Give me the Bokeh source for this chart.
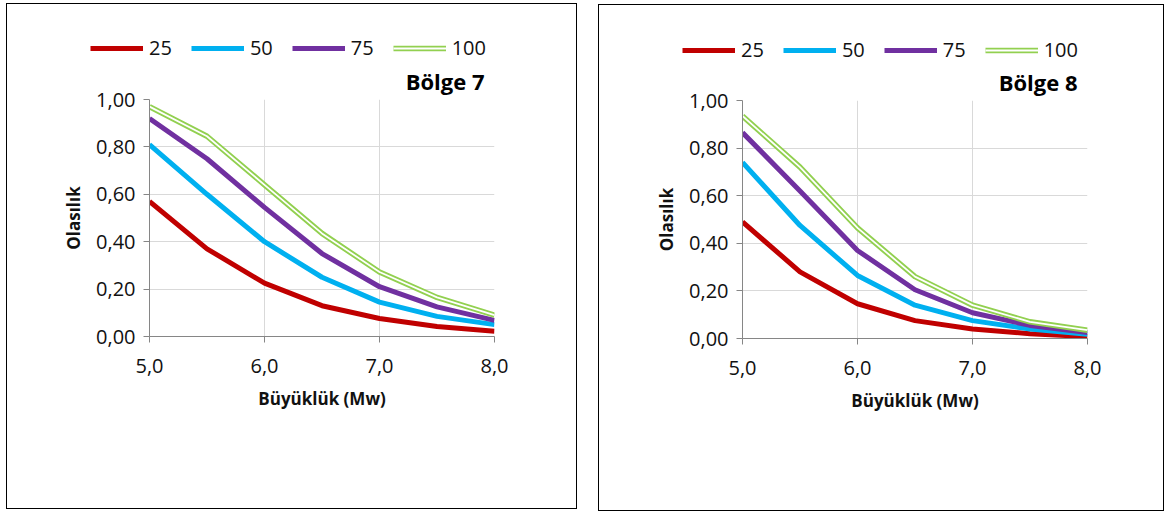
from bokeh.plotting import figure
from bokeh.models import Legend, LegendItem, Title, Range1d, FixedTicker, Spacer
from bokeh.layouts import row, column
from bokeh.embed import file_html
from bokeh.resources import INLINE

# ---------------- data ----------------
magnitudes = [5.0, 5.5, 6.0, 6.5, 7.0, 7.5, 8.0]
series_names = ["25", "50", "75", "100"]

bolge7_25 = [0.57, 0.37, 0.225, 0.13, 0.076, 0.042, 0.022]
bolge7_50 = [0.81, 0.60, 0.40, 0.25, 0.145, 0.085, 0.05]
bolge7_75 = [0.92, 0.75, 0.545, 0.35, 0.21, 0.125, 0.068]
bolge7_100 = [0.97, 0.845, 0.64, 0.435, 0.272, 0.165, 0.09]

bolge8_25 = [0.49, 0.28, 0.146, 0.075, 0.04, 0.02, 0.008]
bolge8_50 = [0.74, 0.475, 0.265, 0.14, 0.075, 0.04, 0.018]
bolge8_75 = [0.865, 0.62, 0.37, 0.205, 0.108, 0.055, 0.025]
bolge8_100 = [0.935, 0.72, 0.465, 0.26, 0.14, 0.07, 0.035]

x_ticks = [5.0, 6.0, 7.0, 8.0]
x_tick_labels = ["5,0", "6,0", "7,0", "8,0"]
y_ticks = [0.0, 0.2, 0.4, 0.6, 0.8, 1.0]
y_tick_labels = ["0,00", "0,20", "0,40", "0,60", "0,80", "1,00"]

titles = ["Bölge 7", "Bölge 8"]
x_title = "Büyüklük (Mw)"
y_title = "Olasılık"

colors = ["#C00000", "#00B0F0", "#7030A0", "#92D050"]
FONT = "Open Sans"
TEXT = "#111111"
AXIS = "#868686"
HEADER_H = 57


def series_styles(name, c):
    if name == "100":
        return [dict(line_color=c, line_width=5.5), dict(line_color="white", line_width=1.8)]
    return [dict(line_color=c, line_width=5)]


def make_panel(title, series, width, height, bl, br, bb, leg_x, leg_y):
    # header: legend keys (its own frame covers the whole header)
    h = figure(width=width, height=HEADER_H, output_backend="svg", toolbar_location=None,
               x_axis_location=None, y_axis_location=None, frame_align=False,
               min_border=0, x_range=Range1d(5.0, 8.0), y_range=Range1d(-2.0, -1.0))
    h.grid.visible = False
    h.outline_line_color = None
    h.border_fill_color = "white"
    h.background_fill_color = "white"
    items = []
    for name, ys, c in zip(series_names, series, colors):
        # same series, drawn outside the header's visible range: only the legend keys show
        rs = [h.line(magnitudes, ys, line_join="round", **st) for st in series_styles(name, c)]
        items.append(LegendItem(label=name, renderers=rs))
    legend = Legend(items=items, orientation="horizontal", location=(leg_x, leg_y),
                    glyph_width=53, glyph_height=20, label_height=20, label_standoff=6,
                    spacing=19, padding=0, margin=0, border_line_color=None,
                    background_fill_alpha=0, label_text_font=FONT, label_text_font_size="20px",
                    label_text_line_height=1.0, label_text_color=TEXT)
    h.add_layout(legend, "center")

    # main chart
    p = figure(width=width, height=height - HEADER_H, output_backend="svg", toolbar_location=None,
               x_range=Range1d(5.0, 8.0), y_range=Range1d(0.0, 1.0), frame_align=False,
               min_border_left=bl, min_border_right=br, min_border_top=99 - 4 - HEADER_H,
               min_border_bottom=bb)
    p.outline_line_color = None
    p.background_fill_color = "white"
    p.border_fill_color = "white"

    p.add_layout(Title(text=title, align="right", offset=10, standoff=6, vertical_align="middle",
                       text_font=FONT, text_font_style="bold", text_font_size="22px",
                       text_color="#000000"), "above")

    for ax, ticks, labels in ((p.xaxis[0], x_ticks, x_tick_labels), (p.yaxis[0], y_ticks, y_tick_labels)):
        ax.ticker = FixedTicker(ticks=ticks)
        ax.major_label_overrides = {t: l for t, l in zip(ticks, labels)}
        ax.axis_line_color = AXIS
        ax.major_tick_line_color = AXIS
        ax.major_tick_out = 6
        ax.major_tick_in = 0
        ax.minor_tick_line_color = None
        ax.major_label_text_font = FONT
        ax.major_label_text_font_size = "20px"
        ax.major_label_text_color = TEXT
        ax.axis_label_text_font = FONT
        ax.axis_label_text_font_style = "bold"
        ax.axis_label_text_font_size = "17px"
        ax.axis_label_text_color = TEXT
    p.xaxis.axis_label = x_title
    p.yaxis.axis_label = y_title
    p.xaxis.major_label_standoff = 16
    p.yaxis.major_label_standoff = 8
    p.xaxis.axis_label_standoff = 11
    p.yaxis.axis_label_standoff = 8

    p.xgrid.grid_line_color = "#D9D9D9"
    p.ygrid.grid_line_color = "#D9D9D9"
    p.xgrid.ticker = FixedTicker(ticks=x_ticks)
    p.ygrid.ticker = FixedTicker(ticks=y_ticks)

    for name, ys, c in zip(series_names, series, colors):
        for st in series_styles(name, c):
            p.line(magnitudes, ys, line_join="round", **st)

    return column(h, p, styles={"border": "1px solid black"})


c1 = make_panel(titles[0], [bolge7_25, bolge7_50, bolge7_75, bolge7_100],
                569, 504, 142, 82, 172, 83, 0)
c2 = make_panel(titles[1], [bolge8_25, bolge8_50, bolge8_75, bolge8_100],
                564, 505, 143, 76, 172, 83, -1)

layout = column(Spacer(height=3),
                row(Spacer(width=6), c1, Spacer(width=21), column(Spacer(height=1), c2)))

open("out.html", "w").write(file_html(layout, INLINE))
